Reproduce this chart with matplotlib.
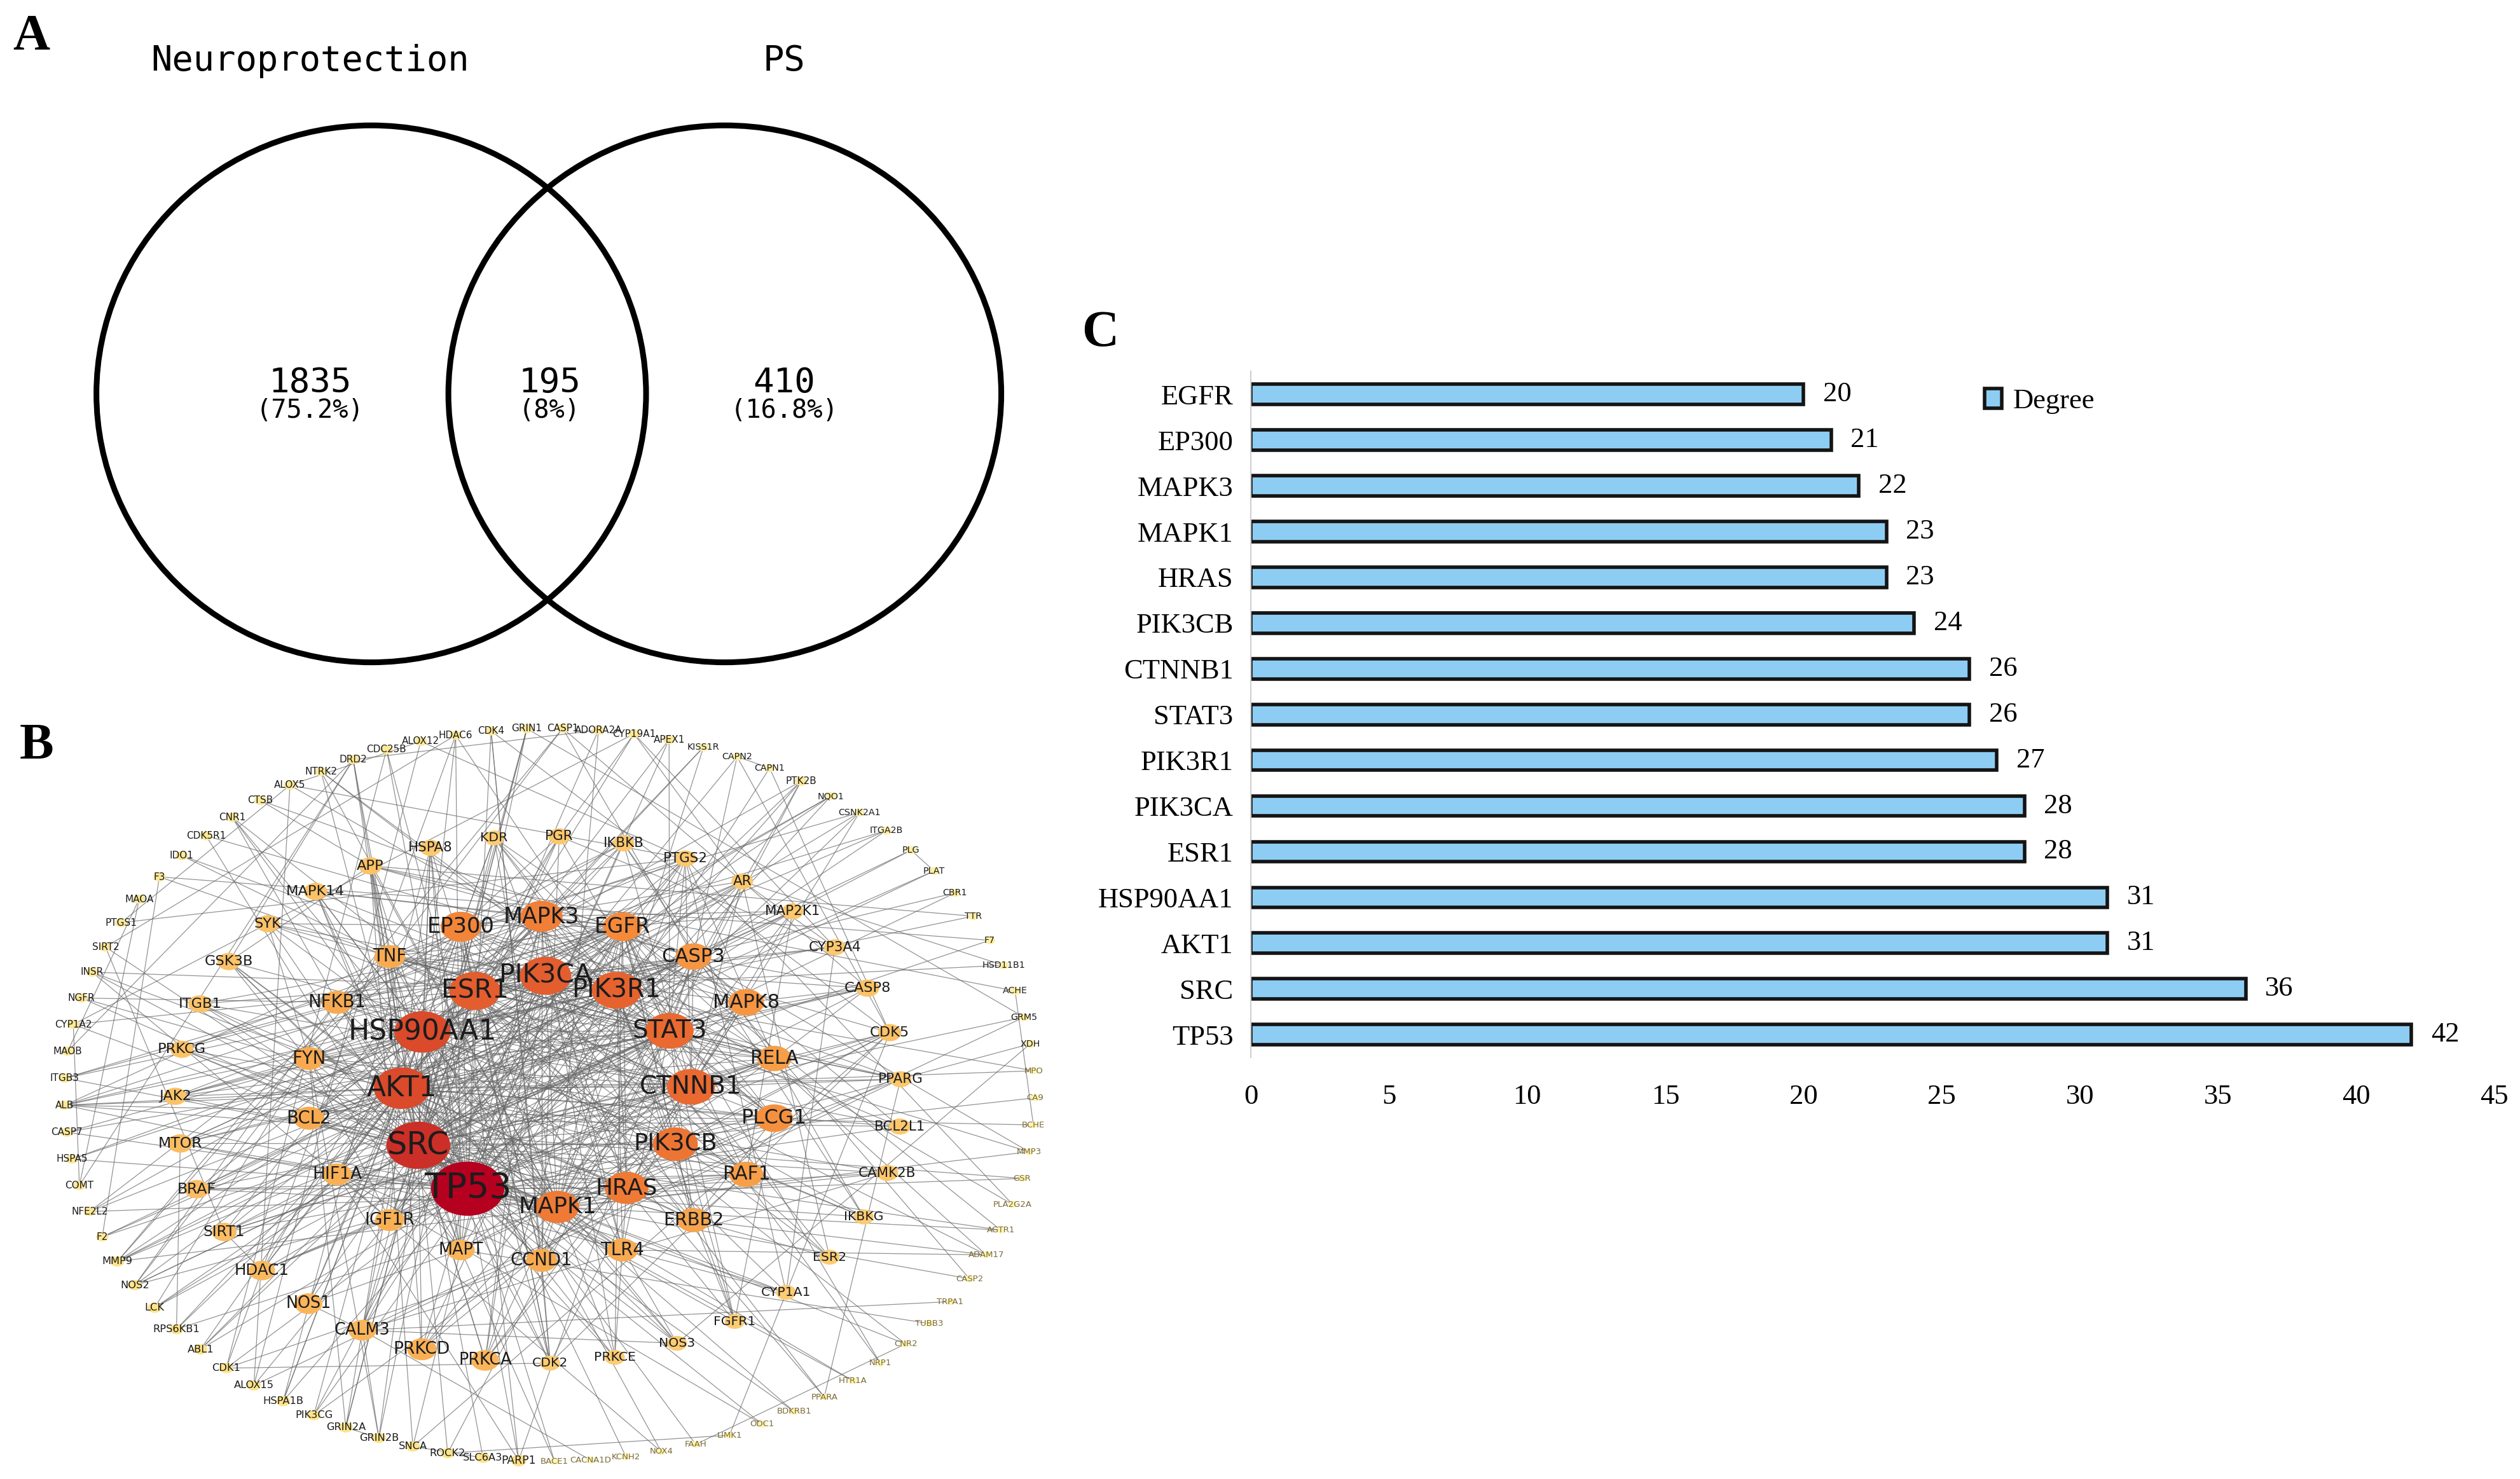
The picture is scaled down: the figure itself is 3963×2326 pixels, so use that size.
import numpy as np
import matplotlib
matplotlib.use("Agg")
import matplotlib.pyplot as plt
from matplotlib.patches import Ellipse
from matplotlib.collections import LineCollection
from matplotlib.colors import LinearSegmentedColormap

# ---------------- data ----------------
venn_sets = ["Neuroprotection", "PS"]
venn_counts = [1835, 195, 410]
venn_pcts = ["(75.2%)", "(8%)", "(16.8%)"]

genes = ["EGFR", "EP300", "MAPK3", "MAPK1", "HRAS", "PIK3CB", "CTNNB1", "STAT3",
         "PIK3R1", "PIK3CA", "ESR1", "HSP90AA1", "AKT1", "SRC", "TP53"]
degree = [20, 21, 22, 23, 23, 24, 26, 26, 27, 28, 28, 31, 31, 36, 42]
xticks = [0, 5, 10, 15, 20, 25, 30, 35, 40, 45]
legend_label = "Degree"

# network rings (angular order, clockwise)
ring0 = ["TP53", "SRC", "AKT1", "HSP90AA1", "ESR1", "PIK3CA", "PIK3R1", "STAT3",
         "CTNNB1", "PIK3CB", "HRAS", "MAPK1"]
ring1 = ["MAPK3", "EGFR", "CASP3", "MAPK8", "RELA", "PLCG1", "RAF1", "ERBB2", "TLR4",
         "CCND1", "MAPT", "IGF1R", "HIF1A", "BCL2", "FYN", "NFKB1", "TNF", "EP300"]
ring1_deg = [22, 20, 18, 18, 17, 19, 17, 16, 15, 15, 13, 14, 14, 15, 15, 15, 15, 21]
ring2 = ["KDR", "PGR", "IKBKB", "PTGS2", "AR", "MAP2K1", "CYP3A4", "CASP8", "CDK5",
         "PPARG", "BCL2L1", "CAMK2B", "IKBKG", "ESR2", "CYP1A1", "FGFR1", "NOS3",
         "PRKCE", "CDK2", "PRKCA", "PRKCD", "CALM3", "NOS1", "HDAC1", "SIRT1", "BRAF",
         "MTOR", "JAK2", "PRKCG", "ITGB1", "GSK3B", "SYK", "MAPK14", "APP", "HSPA8"]
ring2_deg = [8, 9, 9, 9, 9, 9, 9, 10, 10, 9, 9, 9, 8, 8, 8, 8, 8, 8, 8, 13, 14, 13, 13,
             12, 11, 11, 11, 10, 10, 10, 10, 10, 10, 10, 9]
ring3 = ["ALOX12", "HDAC6", "CDK4", "GRIN1", "CASP1", "ADORA2A", "CYP19A1", "APEX1",
         "KISS1R", "CAPN2", "CAPN1", "PTK2B", "NQO1", "CSNK2A1", "ITGA2B", "PLG", "PLAT",
         "CBR1", "TTR", "F7", "HSD11B1", "ACHE", "GRM5", "XDH", "MPO", "CA9", "BCHE",
         "MMP3", "GSR", "PLA2G2A", "AGTR1", "ADAM17", "CASP2", "TRPA1", "TUBB3", "CNR2",
         "NRP1", "HTR1A", "PPARA", "BDKRB1", "ODC1", "LIMK1", "FAAH", "NOX4", "KCNH2",
         "CACNA1D", "BACE1", "PARP1", "SLC6A3", "ROCK2", "SNCA", "GRIN2B", "GRIN2A",
         "PIK3CG", "HSPA1B", "ALOX15", "CDK1", "ABL1", "RPS6KB1", "LCK", "NOS2", "MMP9",
         "F2", "NFE2L2", "COMT", "HSPA5", "CASP7", "ALB", "ITGB3", "MAOB", "CYP1A2",
         "NGFR", "INSR", "SIRT2", "PTGS1", "MAOA", "F3", "IDO1", "CDK5R1", "CNR1", "CTSB",
         "ALOX5", "NTRK2", "DRD2", "CDC25B"]
ring3_deg = [3, 3, 3, 3, 3, 3, 3, 3, 2, 2, 2, 3, 2, 2, 2, 2, 2, 2, 2, 2,
             2, 2, 2, 2, 1, 1, 1, 1, 1, 1, 1, 1, 1, 1, 1, 1, 1, 1, 1, 1,
             1, 1, 1, 1, 1, 1, 1, 5, 4, 4, 4, 4, 4, 4, 4, 4, 4, 4, 4, 4,
             4, 4, 3, 3, 3, 3, 3, 3, 3, 3, 3, 3, 3, 3, 3, 3, 3, 3, 3, 3,
             3, 3, 3, 3, 3]

interactions = {
    "TP53": "SRC AKT1 HSP90AA1 ESR1 STAT3 CTNNB1 MAPK1 MAPK3 EP300 EGFR HRAS PIK3CA",
    "SRC": "AKT1 HSP90AA1 ESR1 PIK3CA PIK3R1 STAT3 CTNNB1 PIK3CB HRAS MAPK1 MAPK3 EP300 EGFR",
    "AKT1": "HSP90AA1 ESR1 PIK3CA PIK3R1 STAT3 CTNNB1 PIK3CB HRAS MAPK1 MAPK3 EGFR",
    "HSP90AA1": "ESR1 PIK3CA PIK3R1 STAT3 EGFR",
    "ESR1": "PIK3CA PIK3R1 STAT3 CTNNB1 EP300 MAPK1 MAPK3 EGFR",
    "PIK3CA": "PIK3R1 PIK3CB HRAS EGFR",
    "PIK3R1": "PIK3CB HRAS EGFR STAT3",
    "STAT3": "EP300 MAPK1 MAPK3 EGFR",
    "CTNNB1": "EP300 EGFR",
    "PIK3CB": "HRAS EGFR",
    "HRAS": "MAPK1 MAPK3 EGFR",
    "MAPK1": "MAPK3 EGFR EP300",
    "MAPK3": "EGFR EP300",
    "CASP3": "TP53 AKT1 HSP90AA1 ESR1 STAT3 CTNNB1 MAPK1 MAPK3 EGFR SRC PIK3CA BCL2 MAPK8",
    "MAPK8": "TP53 AKT1 STAT3 MAPK1 MAPK3 HRAS EGFR EP300 CTNNB1 SRC TNF",
    "RELA": "TP53 AKT1 STAT3 EP300 CTNNB1 ESR1 MAPK1 MAPK3 HSP90AA1 SRC NFKB1 TNF",
    "PLCG1": "SRC EGFR PIK3CA PIK3R1 PIK3CB HRAS AKT1 MAPK1 STAT3 ERBB2 FYN",
    "RAF1": "HRAS MAPK1 MAPK3 SRC AKT1 HSP90AA1 EGFR PIK3CA TP53 ERBB2",
    "ERBB2": "EGFR SRC PIK3CA PIK3R1 PIK3CB HRAS HSP90AA1 STAT3 ESR1 AKT1",
    "TLR4": "AKT1 STAT3 MAPK1 MAPK3 PIK3R1 PIK3CA SRC TP53",
    "CCND1": "TP53 CTNNB1 ESR1 AKT1 STAT3 EP300 MAPK1 MAPK3 SRC HIF1A",
    "MAPT": "AKT1 HSP90AA1 MAPK1 MAPK3 SRC TP53 CTNNB1 PIK3CA",
    "IGF1R": "AKT1 PIK3CA PIK3R1 PIK3CB SRC HRAS EGFR ESR1 STAT3 FYN",
    "HIF1A": "TP53 AKT1 HSP90AA1 EP300 STAT3 ESR1 CTNNB1 MAPK1",
    "BCL2": "TP53 AKT1 ESR1 MAPK1 MAPK3 HSP90AA1 SRC STAT3",
    "FYN": "SRC PIK3R1 PIK3CA EGFR HRAS STAT3 AKT1 CTNNB1",
    "NFKB1": "TP53 AKT1 STAT3 EP300 ESR1 CTNNB1 MAPK1 HSP90AA1 TNF",
    "TNF": "TP53 AKT1 STAT3 MAPK1 MAPK3 EGFR SRC CTNNB1",
    "KDR": "SRC PIK3CA PIK3R1 AKT1 HSP90AA1 PLCG1 MAPK1 EGFR",
    "PGR": "ESR1 EP300 SRC STAT3 AKT1 CCND1",
    "IKBKB": "AKT1 RELA NFKB1 TNF HSP90AA1 TP53 CTNNB1",
    "PTGS2": "AKT1 TNF NFKB1 RELA STAT3 EGFR MAPK1 CTNNB1 TP53",
    "AR": "ESR1 EP300 SRC AKT1 HSP90AA1 CTNNB1 TP53 STAT3",
    "MAP2K1": "MAPK1 MAPK3 HRAS RAF1 AKT1 SRC EGFR",
    "CYP3A4": "ESR1 AR PGR CYP1A2 CYP19A1",
    "CASP8": "CASP3 TP53 TNF AKT1 RELA MAPK8 BCL2",
    "CDK5": "TP53 MAPT CTNNB1 MAPK1 SRC CDK2",
    "PPARG": "ESR1 EP300 CTNNB1 STAT3 MAPK1 TNF AKT1",
    "BCL2L1": "BCL2 TP53 AKT1 STAT3 CASP3 HSP90AA1",
    "CAMK2B": "MAPK1 HRAS SRC CALM3 AKT1",
    "IKBKG": "RELA NFKB1 IKBKB TNF HSP90AA1 TP53",
    "ESR2": "ESR1 EP300 SRC CTNNB1 AR",
    "CYP1A1": "ESR1 HIF1A PTGS2 CYP1A2 CYP3A4 TP53",
    "FGFR1": "PLCG1 SRC PIK3R1 HRAS EGFR ERBB2 STAT3",
    "NOS3": "AKT1 HSP90AA1 CALM3 ESR1 SRC MAPK1",
    "PRKCE": "AKT1 HRAS MAPK1 MAPK3 SRC EGFR",
    "CDK2": "TP53 CCND1 CTNNB1 AKT1 EP300 ESR1",
    "PRKCA": "SRC AKT1 EGFR HRAS MAPK1 MAPK3 PIK3CA CTNNB1",
    "PRKCD": "SRC AKT1 EGFR MAPK1 STAT3 TP53 PIK3CB",
    "CALM3": "NOS1 NOS3 AKT1 PIK3CA EGFR HSP90AA1 ESR1",
    "NOS1": "HSP90AA1 AKT1 SRC MAPT",
    "HDAC1": "TP53 EP300 ESR1 CTNNB1 STAT3 RELA HIF1A SIRT1",
    "SIRT1": "TP53 EP300 HIF1A STAT3 CTNNB1 AKT1 RELA",
    "BRAF": "HRAS RAF1 MAPK1 MAPK3 MAP2K1 AKT1 SRC",
    "MTOR": "AKT1 PIK3CA PIK3R1 PIK3CB HIF1A STAT3 MAPK1 HSP90AA1",
    "JAK2": "STAT3 SRC PIK3R1 EGFR AKT1 HSP90AA1 FYN",
    "PRKCG": "SRC MAPK1 MAPK3 HRAS AKT1 EGFR",
    "ITGB1": "SRC PIK3CA AKT1 EGFR CTNNB1 FYN",
    "GSK3B": "AKT1 CTNNB1 TP53 MAPT MAPK1 SRC",
    "SYK": "SRC PIK3R1 PLCG1 FYN STAT3 HRAS EGFR",
    "MAPK14": "TP53 MAPK1 MAPK3 STAT3 AKT1 HSP90AA1 EGFR SRC",
    "APP": "MAPT SRC MAPK1 EGFR AKT1 CASP3 GSK3B",
    "HSPA8": "HSP90AA1 TP53 AKT1 MAPT ESR1 SRC",
    "ALOX12": "ALOX5 PTGS2 ALOX15",
    "HDAC6": "HSP90AA1 HDAC1 MAPT CTNNB1",
    "CDK4": "CCND1 TP53 CDK2 CDK5",
    "GRIN1": "GRIN2A GRIN2B CALM3 SRC",
    "CASP1": "CASP3 TNF CASP8 NFKB1",
    "ADORA2A": "DRD2 SRC MAPK1",
    "CYP19A1": "ESR1 AR PGR CYP1A2",
    "APEX1": "TP53 HIF1A STAT3",
    "KISS1R": "MAPK1 MAPK3 ESR1",
    "CAPN2": "CAPN1 CDK5 SRC CASP3",
    "CAPN1": "CDK5 MAPT",
    "PTK2B": "SRC PIK3R1 MAPK1 STAT3 FYN",
    "NQO1": "TP53 HSP90AA1 NFE2L2 AKT1",
    "CSNK2A1": "TP53 CTNNB1 AKT1 EP300",
    "ITGA2B": "SRC ITGB3 PIK3CA",
    "PLG": "PLAT F2 MMP9",
    "PLAT": "MMP9 F2",
    "CBR1": "ALB NOS2",
    "TTR": "ALB APP",
    "F7": "F3 F2",
    "HSD11B1": "ESR1 AR",
    "ACHE": "APP BCHE",
    "GRM5": "GRIN1 CALM3 SRC",
    "XDH": "NOS2 NOS3",
    "MPO": "TNF ALB",
    "CA9": "HIF1A",
    "BCHE": "ALB",
    "MMP3": "MMP9 TNF CASP3",
    "GSR": "NFE2L2 ALB",
    "PLA2G2A": "PTGS2 ALOX5",
    "AGTR1": "SRC EGFR MAPK1",
    "ADAM17": "EGFR TNF ERBB2 TLR4",
    "CASP2": "CASP3 TP53",
    "TRPA1": "CALM3",
    "TUBB3": "MAPT",
    "CNR2": "CNR1 MAPK1",
    "NRP1": "KDR EGFR",
    "HTR1A": "SRC MAPK1",
    "PPARA": "PPARG EP300 ESR1",
    "BDKRB1": "MAPK1 SRC",
    "ODC1": "TP53 HIF1A",
    "LIMK1": "CDK5 ROCK2",
    "FAAH": "CNR1 CNR2",
    "NOX4": "TNF HIF1A",
    "KCNH2": "HSP90AA1",
    "CACNA1D": "CALM3",
    "BACE1": "APP MAPT",
    "PARP1": "TP53 CASP3 EP300 HIF1A",
    "SLC6A3": "DRD2 SNCA",
    "ROCK2": "SRC STAT3",
    "SNCA": "MAPT APP CDK5",
    "GRIN2B": "GRIN2A CALM3 SRC FYN",
    "GRIN2A": "SRC CALM3 FYN",
    "PIK3CG": "PIK3CA PIK3R1 AKT1 HRAS",
    "HSPA1B": "HSP90AA1 TP53 AKT1 HSPA8",
    "ALOX15": "ALOX5 PTGS2 PPARG",
    "CDK1": "TP53 CCND1 CDK2 HDAC1",
    "ABL1": "TP53 SRC EGFR HSP90AA1",
    "RPS6KB1": "MTOR AKT1 PIK3CA MAPK1",
    "LCK": "SRC FYN PIK3R1 STAT3",
    "NOS2": "TNF NFKB1 STAT3 AKT1",
    "MMP9": "TNF NFKB1 STAT3 EGFR",
    "F2": "F3",
    "NFE2L2": "EP300 AKT1",
    "COMT": "DRD2 CYP1A2",
    "HSPA5": "HSP90AA1 TP53 CASP3",
    "CASP7": "CASP3 CASP8 TP53",
    "ALB": "AKT1 TNF TP53 EGFR",
    "ITGB3": "SRC PIK3CA EGFR",
    "MAOB": "MAOA DRD2",
    "CYP1A2": "CYP1A1",
    "NGFR": "NFKB1 AKT1 MAPK1",
    "INSR": "PIK3R1 AKT1 SRC IGF1R",
    "SIRT2": "SIRT1 TP53 HDAC6",
    "PTGS1": "PTGS2 ALOX5",
    "MAOA": "COMT",
    "F3": "TNF",
    "IDO1": "STAT3 TNF",
    "CDK5R1": "CDK5 MAPT",
    "CNR1": "MAPK1 SRC",
    "CTSB": "CASP3 APP",
    "ALOX5": "PTGS2 ALOX15",
    "NTRK2": "SRC PLCG1 PIK3R1 MAPK1",
    "DRD2": "SRC AKT1 GSK3B",
    "CDC25B": "CDK1 CDK2 TP53",
}

# ---------------- style ----------------
SERIF = "Liberation Serif"
MONO = "DejaVu Sans Mono"
SANS = "DejaVu Sans"

W, H = 1568.0, 920.0            # layout units (1 unit ~ 2.527 px)
fig = plt.figure(figsize=(39.63, 23.26), dpi=100)
ax = fig.add_axes([0, 0, 1, 1])
ax.set_xlim(0, W)
ax.set_ylim(H, 0)
ax.axis("off")

# ---------------- panel letters ----------------
for letter, (lx, ly) in zip("ABC", [(8, 31), (12, 472), (673, 215)]):
    ax.text(lx, ly, letter, fontsize=58, fontweight="bold", family=SERIF,
            ha="left", va="baseline")

# ---------------- panel A : Venn ----------------
vl_c, vr_c = (231, 245), (451, 245)
ax.add_patch(Ellipse(vl_c, 342, 334, fill=False, ec="black", lw=6.5))
ax.add_patch(Ellipse(vr_c, 344, 334, fill=False, ec="black", lw=6.5))
ax.text(193, 44, venn_sets[0], family=MONO, fontsize=40, ha="center", va="baseline")
ax.text(488, 44, venn_sets[1], family=MONO, fontsize=40, ha="center", va="baseline")
for cx, cnt, pct in zip([193, 342, 488], venn_counts, venn_pcts):
    ax.text(cx, 244, str(cnt), family=MONO, fontsize=39, ha="center", va="baseline")
    ax.text(cx, 255.5, pct, family=MONO, fontsize=29, ha="center", va="center")

# ---------------- panel B : network ----------------
def ring_layout(names, cx, cy, rx, ry, start_deg, span=360.0):
    ang = np.deg2rad(start_deg + span * np.arange(len(names)) / len(names))
    return {n: (cx + rx * np.cos(a), cy + ry * np.sin(a)) for n, a in zip(names, ang)}

pos = {}
pos.update(ring_layout(ring0, 340, 679, 90, 72, 123, span=352))
pos.update(ring_layout(ring1, 337, 677, 147, 107, 270))
pos.update(ring_layout(ring2, 335, 684, 226, 164, 263))
pos.update(ring_layout(ring3, 342, 681, 302, 228, 254.6))

chart_deg = dict(zip(genes, degree))
node_deg = {}
for names, degs in [(ring1, ring1_deg), (ring2, ring2_deg), (ring3, ring3_deg)]:
    node_deg.update(dict(zip(names, degs)))
node_deg.update({n: chart_deg[n] for n in ring0})
node_deg.update({n: chart_deg[n] for n in ring1 if n in chart_deg})

edge_set = set()
for a, nbrs in interactions.items():
    for b in nbrs.split():
        if a != b and a in pos and b in pos:
            edge_set.add(tuple(sorted((a, b))))
segs = [[pos[a], pos[b]] for a, b in sorted(edge_set)]
ax.add_collection(LineCollection(segs, colors="#666666", linewidths=0.9,
                                 alpha=0.7, zorder=2))

anchors = [(1, "#fff4b3"), (4, "#fee38a"), (9, "#fcc66c"), (14, "#f9b055"),
           (20, "#f48a3a"), (26, "#e96a30"), (31, "#da4a2b"), (36, "#cb2f27"),
           (42, "#b5001f")]
cmap = LinearSegmentedColormap.from_list(
    "deg", [((d - 1) / 41.0, c) for d, c in anchors])

for n in sorted(pos, key=lambda k: node_deg[k]):
    d = node_deg[n]
    h = 3.5 + 0.72 * d
    ax.add_patch(Ellipse(pos[n], 1.35 * h, h, facecolor=cmap((d - 1) / 41.0),
                         edgecolor="none", zorder=3))
for n in sorted(pos, key=lambda k: node_deg[k]):
    d = node_deg[n]
    cap = 3.2 + 0.27 * d
    col = "#7a6a35" if d <= 1 else "#1c1c1c"
    ax.text(pos[n][0], pos[n][1], n, family=SANS, fontsize=cap * 2.49 * 1.1,
            color=col, ha="center", va="center", zorder=4)

# ---------------- panel C : bar chart ----------------
axc = fig.add_axes([778.4 / W, 1 - 657.8 / H, (1552 - 778.4) / W, (657.8 - 231.1) / H])
y = np.arange(len(genes))
bars = axc.barh(y, degree, height=0.44, color="#8ecdf3", edgecolor="#141414",
                linewidth=4, label=legend_label)
axc.bar_label(bars, labels=[str(v) for v in degree], padding=22, fontsize=32,
              family=SERIF)
axc.set_xlim(0, 45)
axc.set_ylim(len(genes) - 0.5, -0.5)
axc.set_xticks(xticks)
axc.set_xticklabels([str(t) for t in xticks], family=SERIF, fontsize=32)
axc.set_yticks(y)
axc.set_yticklabels(genes, family=SERIF, fontsize=32)
axc.tick_params(axis="x", length=0, pad=30)
axc.tick_params(axis="y", length=0, pad=20)
for s in ["top", "right", "bottom"]:
    axc.spines[s].set_visible(False)
axc.spines["left"].set_color("#cfcfcf")
axc.spines["left"].set_linewidth(1.5)
axc.patch.set_alpha(0)
leg = axc.legend(loc="upper left", bbox_to_anchor=(0.59, 0.975), frameon=False,
                 prop={"family": SERIF, "size": 32}, handlelength=0.6,
                 handleheight=0.7, handletextpad=0.4, borderpad=0, borderaxespad=0)

fig.savefig("out.png", dpi=100)
